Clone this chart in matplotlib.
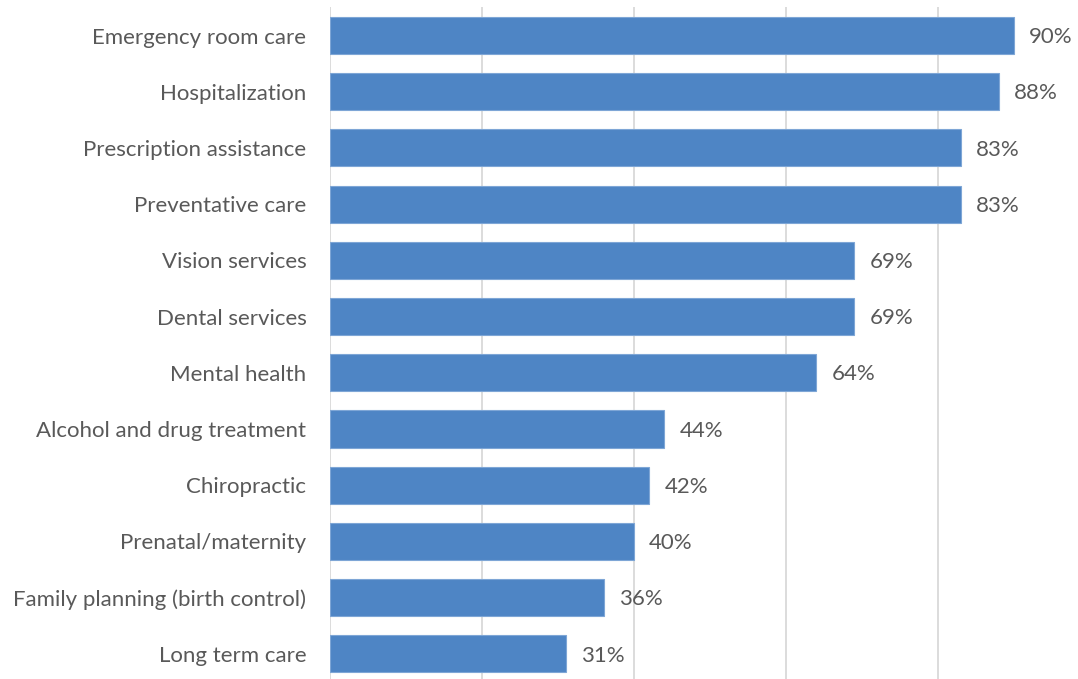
import matplotlib
matplotlib.use("Agg")
import matplotlib.pyplot as plt

categories = [
    "Emergency room care",
    "Hospitalization",
    "Prescription assistance",
    "Preventative care",
    "Vision services",
    "Dental services",
    "Mental health",
    "Alcohol and drug treatment",
    "Chiropractic",
    "Prenatal/maternity",
    "Family planning (birth control)",
    "Long term care",
]
values = [90, 88, 83, 83, 69, 69, 64, 44, 42, 40, 36, 31]
xticks = [0, 20, 40, 60, 80, 100]

plt.rcParams["font.family"] = ["Lato", "DejaVu Sans"]
text_color = "#595959"
bar_color = "#4E85C5"

W, H = 1078, 679
fig = plt.figure(figsize=(W / 100, H / 100), dpi=100)
left_px, zero_to_hundred_px = 330, 760
top_px, bottom_px = 7.4, 682
ax = fig.add_axes([left_px / W, 1 - bottom_px / H,
                   zero_to_hundred_px / W, (bottom_px - top_px) / H])

n = len(categories)
ypos = list(range(n))
ax.barh(ypos, values, height=0.66, color=bar_color,
        edgecolor="#7EA6D6", linewidth=0.8, zorder=3)
ax.set_ylim(n - 0.5, -0.5)
ax.set_xlim(0, 100)
ax.set_xticks(xticks)
ax.set_xticklabels([])
ax.tick_params(axis="x", length=0)
ax.set_yticks(ypos)
ax.set_yticklabels(categories, fontsize=16, color=text_color)
ax.tick_params(axis="y", length=0, pad=17)
ax.grid(axis="x", color="#D9D9D9", linewidth=1.3, zorder=0)
for s in ax.spines.values():
    s.set_visible(False)

for y, v in zip(ypos, values):
    ax.text(v + 2.0, y + 0.03, f"{v}%", va="center", ha="left",
            fontsize=16, color=text_color)

fig.savefig("out.png", dpi=100)
